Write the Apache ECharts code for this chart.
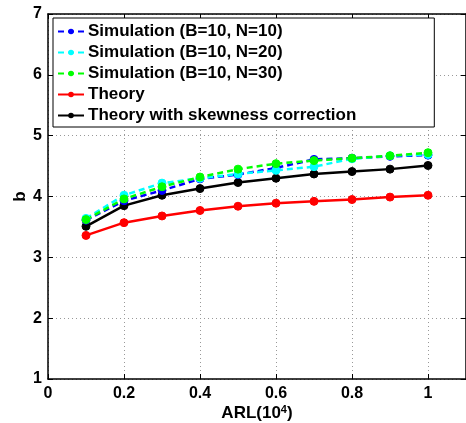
<!DOCTYPE html>
<html>
<head>
<meta charset="utf-8">
<script src="https://cdn.jsdelivr.net/npm/echarts@6/dist/echarts.min.js"></script>
<style>html,body{margin:0;padding:0;background:#fff}#c{width:466px;height:423px}</style>
</head>
<body>
<div id="c"></div>
<script>
const arl = [0.1, 0.2, 0.3, 0.4, 0.5, 0.6, 0.7, 0.8, 0.9, 1.0];
const simN10 = [3.61, 3.93, 4.10, 4.29, 4.36, 4.47, 4.61, 4.63, 4.66, 4.68];
const simN20 = [3.64, 4.02, 4.22, 4.30, 4.37, 4.43, 4.49, 4.62, 4.67, 4.69];
const simN30 = [3.62, 3.96, 4.16, 4.32, 4.45, 4.54, 4.59, 4.63, 4.67, 4.72];
const theory = [3.36, 3.57, 3.68, 3.77, 3.84, 3.89, 3.92, 3.95, 3.99, 4.02];
const theorySkew = [3.51, 3.85, 4.02, 4.13, 4.23, 4.30, 4.37, 4.41, 4.45, 4.51];
const names = ['Simulation (B=10, N=10)', 'Simulation (B=10, N=20)', 'Simulation (B=10, N=30)', 'Theory', 'Theory with skewness correction'];

const FONT = 'Liberation Sans';
function pts(ys) { return arl.map((x, i) => [x, ys[i]]); }
function mk(name, ys, color, dashed) {
  return {
    name: name, type: 'line', data: pts(ys), symbol: 'circle', symbolSize: 8,
    itemStyle: { color: color, borderColor: color },
    lineStyle: { color: color, width: 2.5, type: dashed ? [6, 4] : 'solid' },
    emphasis: { disabled: true }, animation: false, z: dashed ? 3 : 2
  };
}
const chart = echarts.init(document.getElementById('c'), null, { renderer: 'canvas' });
const gridLine = { show: true, lineStyle: { color: '#999', type: [1, 3], width: 1 } };
chart.setOption({
  animation: false,
  grid: { left: 48, right: 0, top: 14, bottom: 44, containLabel: false, outerBoundsMode: 'none' },
  legend: {
    orient: 'vertical', left: 53, top: 18,
    data: names,
    itemWidth: 26, itemHeight: 7, itemGap: 4,
    borderColor: '#000', borderWidth: 1, backgroundColor: '#fff',
    padding: [5, 78, 3, 4],
    textStyle: { fontFamily: FONT, fontWeight: 'bold', fontSize: 17, color: '#000', padding: [0, 0, 0, -1] }
  },
  xAxis: [{
    type: 'value', min: 0, max: 1.1, interval: 0.2,
    name: '{a|ARL(10}{s|4}{a|)}', nameLocation: 'middle', nameGap: 25, nameMoveOverlap: false,
    nameTextStyle: { rich: {
      a: { fontFamily: FONT, fontWeight: 'bold', fontSize: 17, color: '#000' },
      s: { fontFamily: FONT, fontWeight: 'bold', fontSize: 11, color: '#000', verticalAlign: 'top', padding: [0, 0, 8, 0] }
    } },
    axisLine: { show: true, onZero: false, lineStyle: { color: '#000', width: 1.5 } },
    axisTick: { show: true, inside: true, length: 5, lineStyle: { color: '#000' } },
    axisLabel: { fontFamily: FONT, fontWeight: 'bold', fontSize: 16, color: '#000', margin: 7,
      showMaxLabel: false,
      formatter: v => (Math.abs(v - 1.1) < 1e-9 ? '' : String(+v.toFixed(1))) },
    splitLine: gridLine
  }, {
    type: 'value', position: 'top', min: 0, max: 1.1, interval: 0.2,
    axisLine: { show: true, onZero: false, lineStyle: { color: '#000', width: 1.5 } },
    axisTick: { show: true, inside: true, length: 5, lineStyle: { color: '#000' } },
    axisLabel: { show: false }, splitLine: { show: false }
  }],
  yAxis: [{
    type: 'value', min: 1, max: 7, interval: 1,
    name: 'b', nameLocation: 'middle', nameGap: 19, nameRotate: 90, nameMoveOverlap: false,
    nameTextStyle: { fontFamily: FONT, fontWeight: 'bold', fontSize: 17, color: '#000' },
    axisLine: { show: true, onZero: false, lineStyle: { color: '#000', width: 1.5 } },
    axisTick: { show: true, inside: true, length: 5, lineStyle: { color: '#000' } },
    axisLabel: { fontFamily: FONT, fontWeight: 'bold', fontSize: 16, color: '#000', margin: 6 },
    splitLine: gridLine
  }, {
    type: 'value', position: 'right', min: 1, max: 7, interval: 1,
    axisLine: { show: true, onZero: false, lineStyle: { color: '#000', width: 1.5 } },
    axisTick: { show: true, inside: true, length: 5, lineStyle: { color: '#000' } },
    axisLabel: { show: false }, splitLine: { show: false }
  }],
  series: [
    mk(names[3], theory, '#ff0000', false),
    mk(names[4], theorySkew, '#000000', false),
    mk(names[0], simN10, '#0000ff', true),
    mk(names[1], simN20, '#00ffff', true),
    mk(names[2], simN30, '#00ff00', true)
  ]
});
</script>
</body>
</html>
